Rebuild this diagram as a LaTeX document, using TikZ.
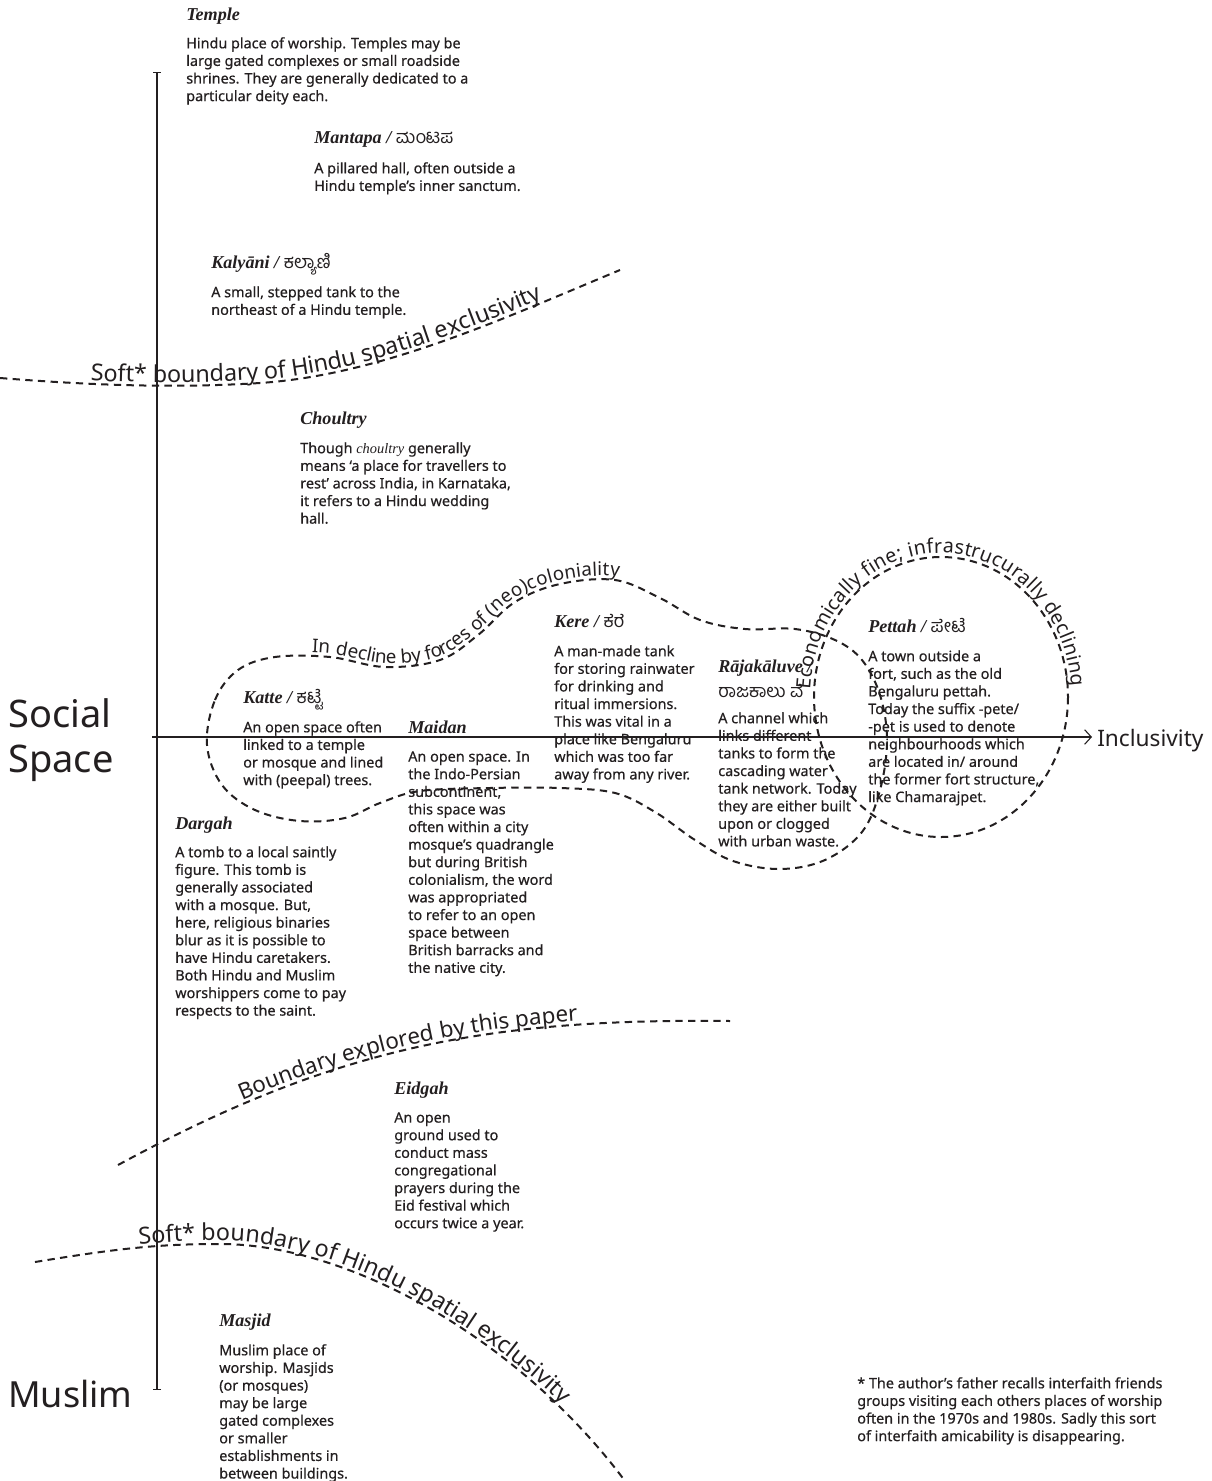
\documentclass[tikz,border=0pt]{standalone}
\usepackage{fontspec}
\setmainfont{Noto Sans}
\newfontfamily\bodyfont{Noto Sans}[FakeBold=0.45]
\newfontfamily\ttlfont{Liberation Serif}
\newfontfamily\kanfont[Script=Kannada]{Hind Mysuru}
\usetikzlibrary{decorations.text,arrows.meta}
\definecolor{ink}{RGB}{35,31,32}
\tikzset{
  body/.style={anchor=north west, inner sep=0pt, align=left, text=ink,
    font=\bodyfont\fontsize{10.8}{13.2}\selectfont},
  ttl/.style={anchor=base west, inner sep=0pt, text=ink,
    font=\fontsize{13.6}{15}\selectfont\ttlfont\bfseries\itshape},
  bnd/.style={draw=ink, line width=1.5pt, dash pattern=on 5.5pt off 4pt},
  axisline/.style={draw=ink, line width=0.8pt},
  biglabel/.style={inner sep=0pt, text=ink, align=left,
    font=\fontsize{28.5}{33.75}\selectfont},
  curvetext/.style={decorate, decoration={text along path, raise=#1, text color=ink}},
}
\newcommand{\kn}[1]{{\kanfont\mdseries\upshape #1}}
\begin{document}
\begin{tikzpicture}[x=0.75pt, y=-0.75pt]
\path[use as bounding box, fill=white] (0,0) rectangle (1212,1481);

% axes
\coordinate (vtop) at (157,72);
\coordinate (vbot) at (157,1390);
\coordinate (hl) at (152,737);
\coordinate (hr) at (1092,737);
\draw[axisline, {Bar[width=6pt]}-{Bar[width=6pt]}] (vtop) -- (vbot);
\draw[axisline, -{Straight Barb[length=5pt, width=11pt]}] (hl) -- (hr);

\node[biglabel, anchor=north west] (social) at (8,698) {Social\\Space};
\node[biglabel, anchor=base west, font=\fontsize{27}{30}\selectfont] (muslim) at (8,1407) {Muslim};
\node[biglabel, anchor=base west, font=\fontsize{17}{20}\selectfont] (incl) at (1097,746) {Inclusivity};

% boundaries
\draw[bnd] (0,378) .. controls (100,386) and (180,388) .. (260,383) .. controls (380,375) and (500,320) .. (620,270);
\path[curvetext=2.5pt, decoration={text align={left indent=68pt},
  text={|\fontsize{17.5}{17.5}\selectfont|Soft* boundary of Hindu spatial exclusivity}}]
  (0,378) .. controls (100,386) and (180,388) .. (260,383) .. controls (380,375) and (500,320) .. (620,270);

\draw[bnd] plot[smooth cycle, tension=0.6] coordinates {(207,745) (215,700) (238,670) (275,657) (330,657) (385,667) (440,660) (478,635) (515,602) (560,584) (615,580) (660,598) (700,620) (745,629) (795,629) (835,640) (862,660) (880,695) (887,740) (880,790) (862,832) (825,860) (780,869) (733,861) (695,840) (655,812) (615,793) (560,788) (490,788) (420,791) (380,803) (345,818) (300,821) (255,810) (222,785)};
\path[curvetext=2.5pt, decoration={text align={left indent=57pt},
  text={|\fontsize{14.1}{14.1}\selectfont|In decline by forces of (neo)coloniality}}]
  plot[smooth, tension=0.6] coordinates {(238,670) (275,657) (330,657) (385,667) (440,660) (478,635) (515,602) (560,584) (615,580) (660,598) (700,620) (745,629)};

\draw[bnd] (941,697) ellipse [x radius=127, y radius=140];
\path[curvetext=3pt, decoration={text align={left indent=0pt},
  text={|\fontsize{14.8}{14.8}\selectfont|Economically fine; infrastrucurally declining}}]
  (941,697) ++(183:127 and 140) arc[start angle=183, end angle=380, x radius=127, y radius=140];

\draw[bnd] (118,1165) .. controls (330,1050) and (480,1018) .. (730,1021);
\path[curvetext=2.5pt, decoration={text align={left indent=105pt},
  text={|\fontsize{16.8}{16.8}\selectfont|Boundary explored by this paper}}]
  (118,1165) .. controls (330,1050) and (480,1018) .. (730,1021);

\draw[bnd] (35,1262) .. controls (120,1248) and (160,1244) .. (220,1244) .. controls (350,1244) and (520,1340) .. (625,1481);
\path[curvetext=2.5pt, decoration={text align={left indent=79pt},
  text={|\fontsize{17.5}{17.5}\selectfont|Soft* boundary of Hindu spatial exclusivity}}]
  (35,1262) .. controls (120,1248) and (160,1244) .. (220,1244) .. controls (350,1244) and (520,1340) .. (625,1481);

% entries
\node[ttl] (templeT) at (186,20) {Temple};
\node[body] (templeB) at (186,37) {Hindu place of worship. Temples may be\\large gated complexes or small roadside\\shrines. They are generally dedicated to a\\particular deity each.};

\node[ttl] (mantapaT) at (314,143) {Mantapa / \kn{ಮಂಟಪ}};
\node[body] (mantapaB) at (314,162) {A pillared hall, often outside a\\Hindu temple’s inner sanctum.};

\node[ttl] (kalyaniT) at (211,268) {Kalyāni / \kn{ಕಲ್ಯಾಣಿ}};
\node[body] (kalyaniB) at (211,286) {A small, stepped tank to the\\northeast of a Hindu temple.};

\node[ttl] (choultryT) at (300,424) {Choultry};
\node[body] (choultryB) at (300,442) {Though {\ttlfont\itshape choultry} generally\\means ‘a place for travellers to\\rest’ across India, in Karnataka,\\it refers to a Hindu wedding\\hall.};

\node[ttl] (katteT) at (243,703) {Katte / \kn{ಕಟ್ಟೆ}};
\node[body] (katteB) at (243,721) {An open space often\\linked to a temple\\or mosque and lined\\with (peepal) trees.};

\node[ttl] (maidanT) at (408,733) {Maidan};
\node[body] (maidanB) at (408,751) {An open space. In\\the Indo-Persian\\subcontinent,\\this space was\\often within a city\\mosque’s quadrangle\\but during British\\colonialism, the word\\was appropriated\\to refer to an open\\space between\\British barracks and\\the native city.};

\node[ttl] (kereT) at (554,627) {Kere / \kn{ಕೆರೆ}};
\node[body] (kereB) at (554,645) {A man-made tank\\for storing rainwater\\for drinking and\\ritual immersions.\\This was vital in a\\place like Bengaluru\\which was too far\\away from any river.};

\node[ttl] (rajaT) at (718,672) {Rājakāluve /};
\node[ttl] (rajaK) at (718,697) {\kn{ರಾಜಕಾಲು ವೆ}};
\node[body] (rajaB) at (718,712) {A channel which\\links different\\tanks to form the\\cascading water\\tank network. Today\\they are either built\\upon or clogged\\with urban waste.};

\node[ttl] (pettahT) at (868,632) {Pettah / \kn{ಪೇಟೆ}};
\node[body] (pettahB) at (868,650) {A town outside a\\fort, such as the old\\Bengaluru pettah.\\Today the suffix -pete/\\-pet is used to denote\\neighbourhoods which\\are located in/ around\\the former fort structure,\\like Chamarajpet.};

\node[ttl] (dargahT) at (175,829) {Dargah};
\node[body] (dargahB) at (175,846) {A tomb to a local saintly\\figure. This tomb is\\generally associated\\with a mosque. But,\\here, religious binaries\\blur as it is possible to\\have Hindu caretakers.\\Both Hindu and Muslim\\worshippers come to pay\\respects to the saint.};

\node[ttl] (eidgahT) at (394,1094) {Eidgah};
\node[body] (eidgahB) at (394,1112) {An open\\ground used to\\conduct mass\\congregational\\prayers during the\\Eid festival which\\occurs twice a year.};

\node[ttl] (masjidT) at (219,1326) {Masjid};
\node[body] (masjidB) at (219,1344) {Muslim place of\\worship. Masjids\\(or mosques)\\may be large\\gated complexes\\or smaller\\establishments in\\between buildings.};

\node[body] (foot) at (857,1377) {* The author’s father recalls interfaith friends\\groups visiting each others places of worship\\often in the 1970s and 1980s. Sadly this sort\\of interfaith amicability is disappearing.};
\end{tikzpicture}
\end{document}
